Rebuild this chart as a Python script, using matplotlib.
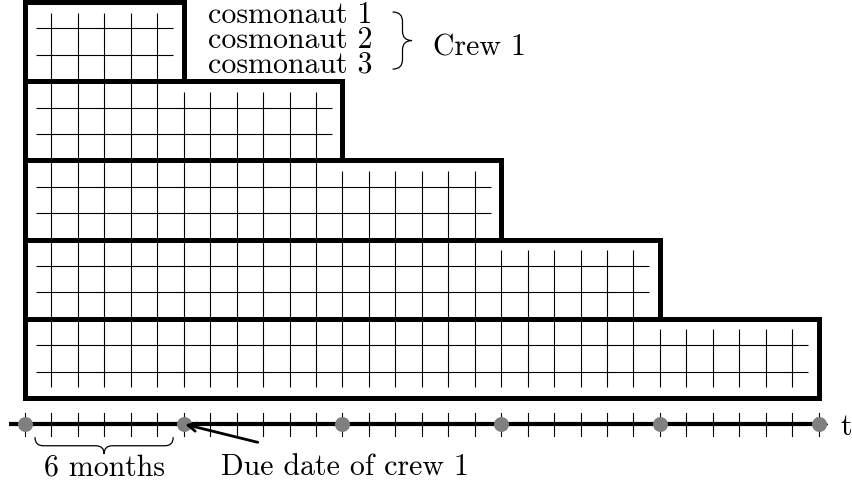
import matplotlib
matplotlib.use("Agg")
import matplotlib.pyplot as plt
from matplotlib.patches import Rectangle, PathPatch
from matplotlib.path import Path

plt.rcParams["axes.unicode_minus"] = False

# crew schedule: each crew box ends at its due date (months)
crew_ends = [6, 12, 18, 24, 30]
crew_height = 3                      # three cosmonauts per crew
members = ["cosmonaut 1", "cosmonaut 2", "cosmonaut 3"]
crew_label = "Crew 1"
due_dates = [0, 6, 12, 18, 24, 30]   # gray dots on the time axis
months = list(range(0, 31))          # tick marks on the time axis
axis_label = "t"
span_label = "6 months"
due_label = "Due date of crew 1"

FONT = "cmr10"
FS = 21.5
GRID_LW = 0.8
BOX_LW = 3.6
INSET = 0.4
AXIS_Y = -16

fig = plt.figure(figsize=(8.53, 4.89), dpi=100)
ax = fig.add_axes([0, 0, 1, 1])
ax.set_xlim(-0.945, 31.30)
ax.set_ylim(-18.41, 0.114)
ax.axis("off")

bottom = -crew_height * len(crew_ends)


def brace(x0, y0, length, amp, direction):
    """Curly brace; direction 'right' (vertical, opening left) or 'down'."""
    r = amp / 2
    L = length
    pts = [(0, 0), (0, r), (r, r), (L / 2 - r, r), (L / 2, r), (L / 2, amp),
           (L / 2, r), (L / 2 + r, r), (L - r, r), (L, r), (L, 0)]
    codes = [Path.MOVETO, Path.CURVE3, Path.CURVE3, Path.LINETO,
             Path.CURVE3, Path.CURVE3, Path.CURVE3, Path.CURVE3,
             Path.LINETO, Path.CURVE3, Path.CURVE3]
    if direction == "right":
        verts = [(x0 + d, y0 - s) for s, d in pts]
    else:
        verts = [(x0 + s, y0 - d) for s, d in pts]
    ax.add_patch(PathPatch(Path(verts, codes), fill=False, lw=0.9,
                           color="black", capstyle="round"))


# grid lines inside the crew boxes
prev_end = 0
for k, end in enumerate(crew_ends):
    top = -crew_height * k
    for j in range(1, crew_height):
        ax.plot([INSET, end - INSET], [top - j, top - j],
                color="black", lw=GRID_LW, solid_capstyle="butt")
    first = 1 if k == 0 else prev_end
    for m in range(first, end):
        ax.plot([m, m], [top - INSET, bottom + INSET],
                color="black", lw=GRID_LW, solid_capstyle="butt")
    prev_end = end

# crew boxes
for k, end in enumerate(crew_ends):
    top = -crew_height * k
    ax.add_patch(Rectangle((0, top - crew_height), end, crew_height,
                           fill=False, edgecolor="black", lw=BOX_LW,
                           joinstyle="miter"))

# member labels (one block, tight TeX-like spacing; anchored on last baseline)
ax.text(6.92, -2.62, "\n".join(members), fontfamily=FONT, fontsize=FS,
        va="baseline", ha="left", linespacing=0.86)
brace(13.91, -0.38, 2.16, 0.72, "right")
ax.text(15.43, -1.97, crew_label, fontfamily=FONT, fontsize=FS,
        va="baseline", ha="left")

# time axis
ax.plot([-0.6, 30.0], [AXIS_Y, AXIS_Y], color="black", lw=3.0,
        solid_capstyle="butt", zorder=3)
ax.annotate("", xy=(30.38, AXIS_Y), xytext=(29.9, AXIS_Y),
            arrowprops=dict(arrowstyle="-|>,head_length=0.5,head_width=0.3",
                            color="black", lw=1.5, shrinkA=0, shrinkB=0,
                            mutation_scale=14), zorder=3)
for m in months:
    ax.plot([m, m], [AXIS_Y + 0.45, AXIS_Y - 0.45], color="black",
            lw=GRID_LW, zorder=2)
ax.plot(due_dates, [AXIS_Y] * len(due_dates), "o", color="#808080",
        ms=10.8, mec="none", zorder=5)
ax.text(30.81, AXIS_Y - 0.36, axis_label, fontfamily=FONT, fontsize=FS,
        va="baseline", ha="left")

# 6-month span brace and due-date pointer
brace(0.38, -16.5, 5.22, 0.62, "down")
ax.text(3.0, -17.88, span_label, fontfamily=FONT, fontsize=FS,
        va="baseline", ha="center")
ax.annotate("", xy=(due_dates[1] + 0.05, AXIS_Y), xytext=(8.8, -16.68),
            arrowprops=dict(arrowstyle="->,head_length=0.5,head_width=0.25",
                            color="black", lw=2.0, shrinkA=0, shrinkB=0,
                            mutation_scale=12), zorder=6)
ax.text(7.41, -17.88, due_label, fontfamily=FONT, fontsize=FS,
        va="baseline", ha="left")

fig.savefig("out.png", dpi=100, facecolor="white")
